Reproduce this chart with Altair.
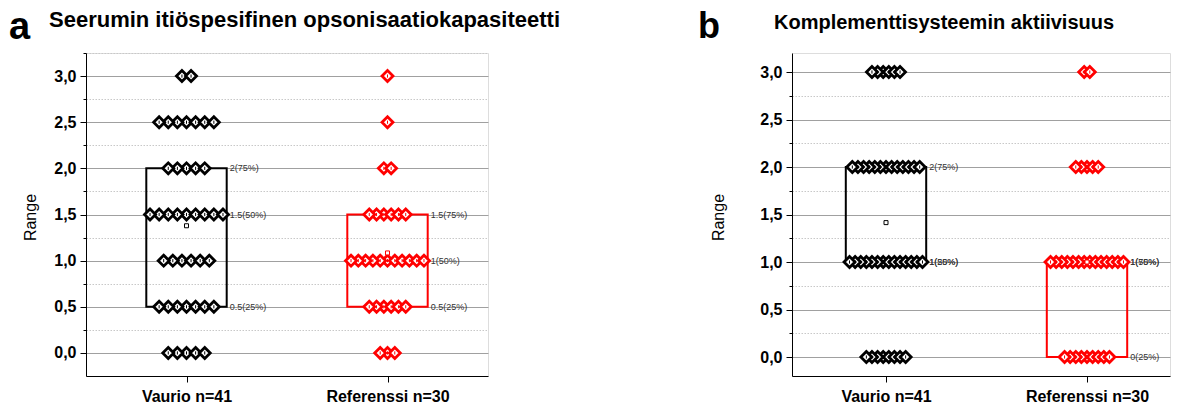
import altair as alt
import numpy as np
import pandas as pd

# ---------------- data ----------------
groups = ["Vaurio n=41", "Referenssi n=30"]
group_colors = ["#000000", "#ff0000"]

a_values = [0.0, 0.5, 1.0, 1.5, 2.0, 2.5, 3.0]
a_vaurio_counts = [5, 7, 6, 9, 5, 7, 2]
a_ref_counts = [3, 6, 11, 6, 2, 1, 1]

b_values = [0.0, 1.0, 2.0, 3.0]
b_vaurio_counts = [8, 14, 13, 6]
b_ref_counts = [9, 14, 5, 2]

a_title = "Seerumin itiöspesifinen opsonisaatiokapasiteetti"
b_title = "Komplementtisysteemin aktiivisuus"
a_letter = "a"
b_letter = "b"
y_title = "Range"

a_ticks = [i * 0.25 for i in range(14)]   # 0 ... 3.25
b_ticks = [i * 0.25 for i in range(13)]   # 0 ... 3.0

FONT = "Liberation Sans"
PX_PER_UNIT = 201.0
SPREAD = 0.363      # centre-to-centre span of the widest row (data units)
BOX_HALF = 0.2


def build(values, count_lists):
    pts, boxes, meds, labels, means = [], [], [], [], []
    for gi, (g, counts) in enumerate(zip(groups, count_lists)):
        c = 0.5 + gi
        maxn = max(counts)
        step = SPREAD / (maxn - 1)
        rows = []
        for v, n in zip(values, counts):
            for i in range(n):
                off = (i - (n - 1) / 2) * step
                rows.append((abs(off), c + off, v))
        rows.sort(key=lambda r: r[0])
        for k, (_, x, v) in enumerate(rows):
            pts.append({"group": g, "x": x, "y": v, "draw": k})
        raw = np.repeat(values, counts)
        q1, med, q3 = np.percentile(raw, [25, 50, 75])
        mean = raw.mean()
        boxes.append({"group": g, "x": c - BOX_HALF, "x2": c + BOX_HALF, "y": q1, "y2": q3})
        meds.append({"group": g, "x": c - BOX_HALF, "x2": c + BOX_HALF, "y": med})
        for val, p in [(q3, 75), (med, 50), (q1, 25)]:
            labels.append({"group": g, "x": c + BOX_HALF, "y": val, "t": f"{val:g}({p}%)"})
        means.append({"group": g, "x": c, "y": mean})
    return (pd.DataFrame(pts), pd.DataFrame(boxes), pd.DataFrame(meds),
            pd.DataFrame(labels), pd.DataFrame(means))


def panel(values, count_lists, ticks, ydomain, xdomain, width, title, title_size, letter,
          letter_size, letter_dx, letter_y, title_dx, ytitle_x):
    pts, boxes, meds, labels, means = build(values, count_lists)
    minor = "datum.value % 0.5 !== 0"
    yaxis = alt.Axis(
        values=ticks,
        labelExpr="datum.value % 0.5 === 0 ? replace(format(datum.value, '.1f'), '.', ',') : ''",
        tickSize={"condition": {"test": minor, "value": 3}, "value": 6},
        grid=True,
        gridColor={"condition": {"test": minor, "value": "#c8c8c8"}, "value": "#a0a0a0"},
        gridDash={"condition": {"test": minor, "value": [1.5, 1.5]}, "value": []},
        gridWidth=1,
        domainColor="black", tickColor="black", domainWidth=1, tickWidth=1,
        labelFontSize=16, labelFontWeight="bold", labelColor="black", labelPadding=4,
        labelFont=FONT, titleFont=FONT,
        titleFontSize=16, titleFontWeight="normal", titleColor="black",
        titleX=ytitle_x, titleY=164,
    )
    xaxis = alt.Axis(
        values=[0.5, 1.5],
        labelExpr=f"datum.value < 1 ? '{groups[0]}' : '{groups[1]}'",
        grid=False, tickSize=6, domainColor="black", tickColor="black",
        labelFontSize=16, labelFontWeight="bold", labelColor="black", labelPadding=6,
        labelFont=FONT,
    )
    X = lambda f="x": alt.X(f"{f}:Q", scale=alt.Scale(domain=xdomain, nice=False, zero=False), axis=xaxis, title=None)
    Y = lambda f="y": alt.Y(f"{f}:Q", scale=alt.Scale(domain=ydomain, nice=False, zero=False), axis=yaxis, title=y_title)
    S = alt.Stroke("group:N", scale=alt.Scale(domain=groups, range=group_colors), legend=None)

    box = alt.Chart(boxes).mark_rect(filled=False, strokeWidth=2).encode(
        x=X(), x2="x2:Q", y=Y(), y2="y2:Q", stroke=S)
    medr = alt.Chart(meds).mark_rule(strokeWidth=2).encode(x=X(), x2="x2:Q", y=Y(), stroke=S)
    dots = alt.Chart(pts).mark_point(shape="diamond", size=121, fill="white", fillOpacity=1,
                                     strokeWidth=2.8, opacity=1).encode(
        x=X(), y=Y(), stroke=S, order=alt.Order("draw:Q"))
    bars = alt.Chart(pts).mark_point(shape="M0,-1L0,1", size=10, strokeWidth=1, opacity=1).encode(
        x=X(), y=Y(), stroke=S)
    mean = alt.Chart(means).mark_point(shape="square", size=16, fill="white", fillOpacity=1,
                                       strokeWidth=1, opacity=1).encode(x=X(), y=Y(), stroke=S)
    lab = alt.Chart(labels).mark_text(align="left", baseline="middle", dx=3, fontSize=9,
                                      font=FONT, color="#333333").encode(x=X(), y=Y(), text="t:N")
    let = alt.Chart(pd.DataFrame({"t": [letter]})).mark_text(
        align="left", baseline="alphabetic", fontSize=letter_size, fontWeight="bold", font=FONT,
        color="black"
    ).encode(x=alt.value(letter_dx), y=alt.value(letter_y), text="t:N")

    return alt.layer(box, medr, dots, bars, mean, lab, let).properties(
        width=width, height=323,
        title=alt.TitleParams(text=title, anchor="start", frame="group", dx=title_dx, dy=20,
                              offset=-20, fontSize=title_size, fontWeight="bold", font=FONT,
                              baseline="alphabetic", color="black"),
    )


B_LEFT_MARGIN = 94 / PX_PER_UNIT
B_WIDTH = 378

pa = panel(a_values, [a_vaurio_counts, a_ref_counts], a_ticks, [-0.25, 3.25],
           [0, 402 / PX_PER_UNIT], 402, a_title, 22, a_letter, 38, -77, -14, -37, -48)
pb = panel(b_values, [b_vaurio_counts, b_ref_counts], b_ticks, [-0.2, 3.2],
           [0.5 - B_LEFT_MARGIN, 0.5 - B_LEFT_MARGIN + B_WIDTH / PX_PER_UNIT], B_WIDTH,
           b_title, 20, b_letter, 36, -94, -15, -18, -66)

chart = alt.hconcat(pa, pb, spacing=304, bounds="flush").properties(
    padding=0, background="white"
).configure_view(strokeWidth=0).configure(font=FONT)

chart.save("out.html", embed_options={"renderer": "svg", "actions": False})
